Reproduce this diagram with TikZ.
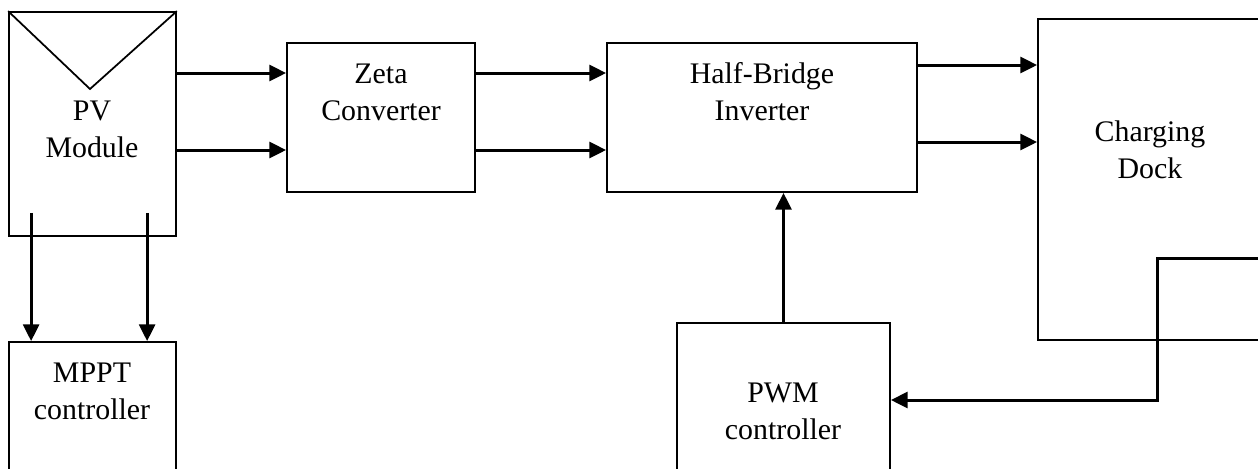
\documentclass[tikz,border=0pt]{standalone}
\usepackage{fontspec}
\setmainfont{Liberation Serif}
\usetikzlibrary{arrows.meta,fit}

\tikzset{
	blk/.style={draw, line width=1pt, inner sep=0pt},
	txt/.style={align=center, font=\fontsize{17}{21}\selectfont},
	arr/.style={line width=1.7pt, -{Triangle[length=9.5pt,width=9pt]}},
}

\begin{document}
\begin{tikzpicture}[x=0.02cm, y=-0.02cm]
	\clip (0,0) rectangle (1258,468);

	% blocks
	\node[blk, fit={(9,12) (176,236)}] (pv) {};
	\node[blk, fit={(287,43) (475,192)}] (zeta) {};
	\node[blk, fit={(607,43) (917,192)}] (hb) {};
	\node[blk, fit={(1038,19) (1262,340)}] (dock) {};
	\node[blk, fit={(9,342) (176,500)}] (mppt) {};
	\node[blk, fit={(677,323) (890,500)}] (pwm) {};

	\coordinate (apex) at (90,89);
	\draw[line width=1pt] (pv.north west) -- (apex) -- (pv.north east);

	\node[txt] (pvtxt) at (92,129) {PV\\Module};
	\node[txt] (zetatxt) at (381,92) {Zeta\\Converter};
	\node[txt] (hbtxt) at (762,92) {Half-Bridge\\Inverter};
	\node[txt] (docktxt) at (1150,150) {Charging\\Dock};
	\node[txt] (mppttxt) at (92,391) {MPPT\\controller};
	\node[txt] (pwmtxt) at (783,411) {PWM\\controller};

	% power path
	\foreach \y in {73,150} {
		\draw[arr] (pv.east |- 0,\y) -- (zeta.west |- 0,\y);
		\draw[arr] (zeta.east |- 0,\y) -- (hb.west |- 0,\y);
	}
	\foreach \y in {65,142}
		\draw[arr] (hb.east |- 0,\y) -- (dock.west |- 0,\y);

	% sensing to MPPT
	\foreach \x in {23,139}
		\draw[arr] ([shift={(\x,-24)}]pv.south west) -- ([shift={(\x,0)}]mppt.north west);

	% control path
	\draw[arr] (pwm.north) -- (pwm.north |- hb.south);
	\coordinate (fb) at (1262,258);
	\coordinate (bend) at (1157,400);
	\draw[arr] (fb) -| (bend) -- (bend -| pwm.east);
\end{tikzpicture}
\end{document}
